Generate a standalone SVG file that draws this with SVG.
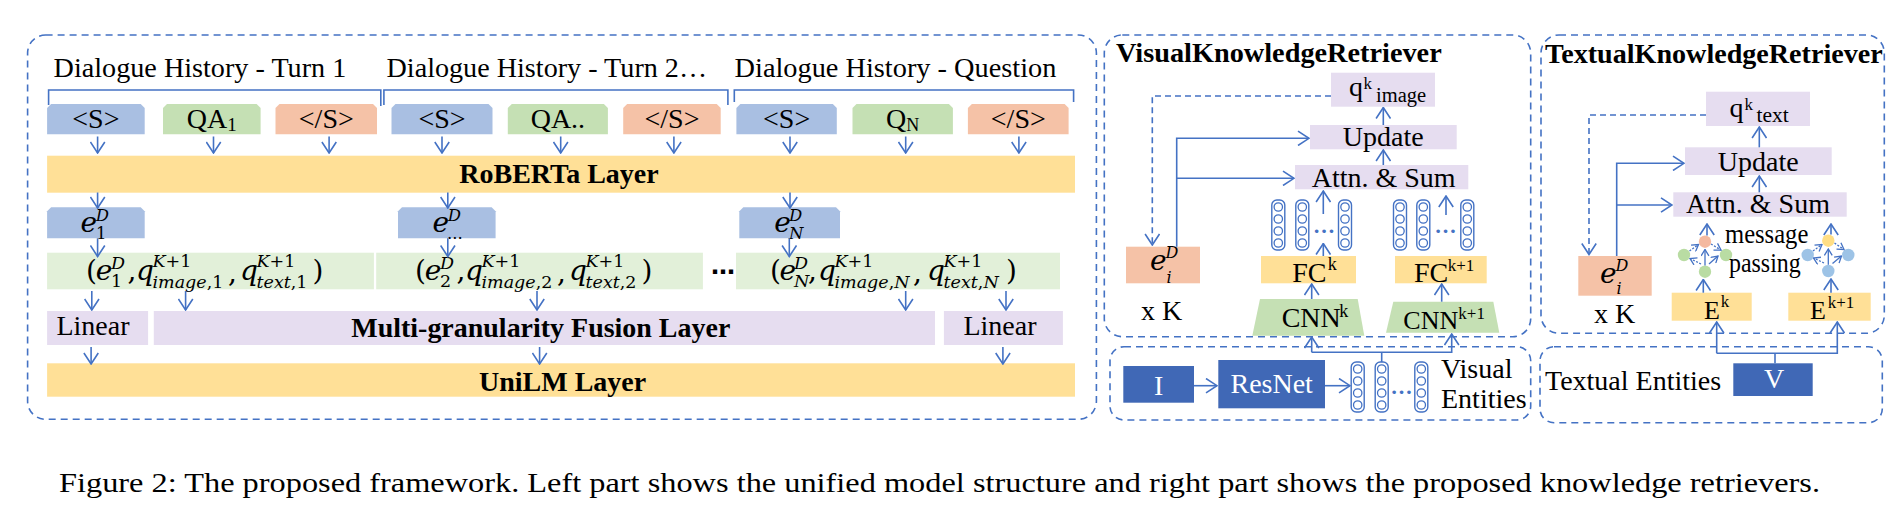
<svg xmlns="http://www.w3.org/2000/svg" width="1901" height="524" viewBox="0 0 1901 524">
<defs>
<style>
text{font-family:"Liberation Serif","Times New Roman",serif;fill:#000;font-size:28px}
.b{font-weight:bold}
.mid{text-anchor:middle}
.m{font-family:"DejaVu Serif","Liberation Serif",serif;font-style:italic}
.up{font-style:normal}
.wt{fill:#fff}
.pnl{fill:none;stroke:#4472C4;stroke-width:1.6;stroke-dasharray:7 5}
.ln{fill:none;stroke:#4472C4;stroke-width:1.6}
.ar{fill:none;stroke:#4472C4;stroke-width:1.6;marker-end:url(#ah)}
.dsh{fill:none;stroke:#4472C4;stroke-width:1.6;stroke-dasharray:6 4;marker-end:url(#ah)}
.sa{fill:none;stroke:#4472C4;stroke-width:1.3;marker-end:url(#ahs)}
.sd{fill:none;stroke:#4472C4;stroke-width:1.3;stroke-dasharray:2 1.5;marker-end:url(#ahs)}
.tb{fill:#A9BFE2}.tg{fill:#C5E0B4}.ts{fill:#F5C2A7}
.yel{fill:#FFE097}.lg{fill:#E2F0D9}.pu{fill:#E6DDF0}.db{fill:#4068B6}
.dots{fill:#4472C4;font-size:22px;font-weight:bold;text-anchor:middle}
</style>
<marker id="ah" markerUnits="userSpaceOnUse" viewBox="0 0 13 16" markerWidth="13" markerHeight="16" refX="12" refY="8" orient="auto">
<path d="M1,0.8L12,8L1,15.2" fill="none" stroke="#4472C4" stroke-width="1.6"/>
</marker>
<marker id="ahs" markerUnits="userSpaceOnUse" viewBox="0 0 8 9" markerWidth="8" markerHeight="9" refX="7" refY="4.5" orient="auto">
<path d="M0.6,0.6L7,4.5L0.6,8.4" fill="none" stroke="#4472C4" stroke-width="1.3"/>
</marker>
<g id="col">
<rect x="-6.5" y="0" width="13" height="50" rx="5" fill="#fff" stroke="#4472C4" stroke-width="1.4"/>
<circle cx="0" cy="7" r="4.2" fill="#fff" stroke="#4472C4" stroke-width="1.3"/>
<circle cx="0" cy="19" r="4.2" fill="#fff" stroke="#4472C4" stroke-width="1.3"/>
<circle cx="0" cy="31" r="4.2" fill="#fff" stroke="#4472C4" stroke-width="1.3"/>
<circle cx="0" cy="43" r="4.2" fill="#fff" stroke="#4472C4" stroke-width="1.3"/>
</g>
</defs>
<rect width="1901" height="524" fill="#fff"/>

<!-- panels -->
<g id="panels">
<rect class="pnl" x="27.6" y="35" width="1068.8" height="384.3" rx="18"/>
<rect class="pnl" x="1104.3" y="35" width="426.4" height="301.7" rx="18"/>
<rect class="pnl" x="1110" y="346.7" width="420.7" height="73.3" rx="14"/>
<rect class="pnl" x="1541" y="35" width="343.3" height="298.3" rx="18"/>
<rect class="pnl" x="1540" y="346.7" width="342.3" height="76" rx="14"/>
</g>

<!-- left: dialogue history -->
<g id="history-labels">
<text x="53.6" y="77.3" textLength="292.7" lengthAdjust="spacingAndGlyphs">Dialogue History - Turn 1</text>
<text x="386.5" y="77.3" textLength="320.6" lengthAdjust="spacingAndGlyphs">Dialogue History - Turn 2…</text>
<text x="734.6" y="77.3" textLength="321.8" lengthAdjust="spacingAndGlyphs">Dialogue History - Question</text>
<path class="ln" d="M48.6,105V90H380.8V106"/>
<path class="ln" d="M383.9,105V90H727.9V105"/>
<path class="ln" d="M734.3,102V90H1073.6V102"/>
</g>

<g id="tok-s1"><path class="tb" d="M47.1,134.3V108L51.1,104H140.7L144.7,108V134.3Z"/><text class="mid" x="95.9" y="128">&lt;S&gt;</text></g>
<g id="tok-qa1"><path class="tg" d="M163,134.3V108L167,104H256.6L260.6,108V134.3Z"/><text class="mid" x="211.8" y="128">QA<tspan font-size="19" dy="3">1</tspan></text></g>
<g id="tok-e1"><path class="ts" d="M275.5,134.3V108L279.5,104H373L377,108V134.3Z"/><text class="mid" x="326.3" y="128">&lt;/S&gt;</text></g>
<g id="tok-s2"><path class="tb" d="M391.5,134.3V108L395.5,104H488.5L492.5,108V134.3Z"/><text class="mid" x="442" y="128">&lt;S&gt;</text></g>
<g id="tok-qa2"><path class="tg" d="M507.8,134.3V108L511.8,104H603.9L607.9,108V134.3Z"/><text class="mid" x="557.9" y="128">QA..</text></g>
<g id="tok-e2"><path class="ts" d="M623.2,134.3V108L627.2,104H716.7L720.7,108V134.3Z"/><text class="mid" x="672" y="128">&lt;/S&gt;</text></g>
<g id="tok-s3"><path class="tb" d="M736.4,134.3V108L740.4,104H832.8L836.8,108V134.3Z"/><text class="mid" x="786.6" y="128">&lt;S&gt;</text></g>
<g id="tok-qn"><path class="tg" d="M852.5,134.3V108L856.5,104H948.9L952.9,108V134.3Z"/><text class="mid" x="902.7" y="128">Q<tspan font-size="18" dy="3">N</tspan></text></g>
<g id="tok-e3"><path class="ts" d="M967.9,134.3V108L971.9,104H1064.6L1068.6,108V134.3Z"/><text class="mid" x="1018.3" y="128">&lt;/S&gt;</text></g>

<g id="roberta"><rect class="yel" x="47.1" y="155.7" width="1027.9" height="37"/><text class="b mid" x="559" y="183">RoBERTa Layer</text></g>

<g id="e-1"><path class="tb" d="M47.1,238.3V211.3L51.1,207.3H140.7L144.7,211.3V238.3Z"/>
<text class="m" font-size="26"><tspan x="80.4" y="231.7">e</tspan><tspan x="95.7" y="220.5" font-size="16.5">D</tspan><tspan class="up" x="96" y="239" font-size="16.5">1</tspan></text></g>
<g id="e-2"><path class="tb" d="M398,238.3V211.3L402,207.3H491.6L495.6,211.3V238.3Z"/>
<text class="m" font-size="26"><tspan x="432.5" y="231.7">e</tspan><tspan x="447.8" y="220.5" font-size="16.5">D</tspan><tspan class="up" x="447" y="239" font-size="16.5">...</tspan></text></g>
<g id="e-n"><path class="tb" d="M739.3,238.3V211.3L743.3,207.3H836L840,211.3V238.3Z"/>
<text class="m" font-size="26"><tspan x="774.3" y="231.7">e</tspan><tspan x="789" y="220.5" font-size="16.5">D</tspan><tspan x="789" y="239" font-size="16.5">N</tspan></text></g>

<g id="tuple-1"><rect class="lg" x="47.1" y="252.7" width="326.8" height="36.6"/>
<text class="m" font-size="24"><tspan class="up" x="86" y="280">(</tspan><tspan x="95.7" y="280">e</tspan><tspan x="111" y="268.5" font-size="17.5">D</tspan><tspan class="up" x="111" y="287" font-size="17.5">1</tspan><tspan class="up" x="127.4" y="280">,</tspan><tspan x="135.9" y="280">q</tspan><tspan x="152.5" y="267" font-size="17.5">K<tspan class="up">+1</tspan></tspan><tspan x="152.5" y="288" font-size="17.5">image<tspan class="up">,1</tspan></tspan><tspan class="up" x="228" y="282">,</tspan><tspan x="240" y="280">q</tspan><tspan x="256.5" y="267" font-size="17.5">K<tspan class="up">+1</tspan></tspan><tspan x="256.5" y="288" font-size="17.5">text<tspan class="up">,1</tspan></tspan><tspan class="up" x="312.5" y="280">)</tspan></text></g>
<g id="tuple-2"><rect class="lg" x="376.2" y="252.7" width="326.7" height="36.6"/>
<text class="m" font-size="24"><tspan class="up" x="415" y="280">(</tspan><tspan x="424.7" y="280">e</tspan><tspan x="440" y="268.5" font-size="17.5">D</tspan><tspan class="up" x="440" y="287" font-size="17.5">2</tspan><tspan class="up" x="456.4" y="280">,</tspan><tspan x="464.9" y="280">q</tspan><tspan x="481.5" y="267" font-size="17.5">K<tspan class="up">+1</tspan></tspan><tspan x="481.5" y="288" font-size="17.5">image<tspan class="up">,2</tspan></tspan><tspan class="up" x="557" y="282">,</tspan><tspan x="569" y="280">q</tspan><tspan x="585.5" y="267" font-size="17.5">K<tspan class="up">+1</tspan></tspan><tspan x="585.5" y="288" font-size="17.5">text<tspan class="up">,2</tspan></tspan><tspan class="up" x="641.5" y="280">)</tspan></text></g>
<g id="ellipsis"><text class="mid" x="723" y="280" style="font-family:'DejaVu Sans',sans-serif;font-weight:bold;font-size:24px">⋯</text></g>
<g id="tuple-n"><rect class="lg" x="736" y="252.7" width="324" height="36.6"/>
<text class="m" font-size="24"><tspan class="up" x="770" y="280">(</tspan><tspan x="779.5" y="280">e</tspan><tspan x="794" y="268.5" font-size="17.5">D</tspan><tspan x="794" y="287" font-size="17.5">N</tspan><tspan class="up" x="808" y="280">,</tspan><tspan x="818" y="280">q</tspan><tspan x="834.5" y="267" font-size="17.5">K<tspan class="up">+1</tspan></tspan><tspan x="834.5" y="288" font-size="17.5">image<tspan class="up">,</tspan>N</tspan><tspan class="up" x="913" y="282">,</tspan><tspan x="927" y="280">q</tspan><tspan x="943.5" y="267" font-size="17.5">K<tspan class="up">+1</tspan></tspan><tspan x="943.5" y="288" font-size="17.5">text<tspan class="up">,</tspan>N</tspan><tspan class="up" x="1006" y="280">)</tspan></text></g>

<g id="linear-1"><rect class="pu" x="47.1" y="311" width="101" height="34"/><text class="mid" x="93" y="335">Linear</text></g>
<g id="fusion"><rect class="pu" x="153.8" y="311" width="781.2" height="34"/><text class="b mid" x="540.8" y="337" textLength="379" lengthAdjust="spacingAndGlyphs">Multi-granularity Fusion Layer</text></g>
<g id="linear-2"><rect class="pu" x="943.9" y="311" width="119" height="34"/><text class="mid" x="1000" y="335">Linear</text></g>
<g id="unilm"><rect class="yel" x="47.1" y="363.3" width="1027.9" height="33.4"/><text class="b mid" x="562.6" y="391">UniLM Layer</text></g>

<!-- visual knowledge retriever -->
<g id="visual-title"><text class="b" x="1116" y="61.7" textLength="325.7" lengthAdjust="spacingAndGlyphs">VisualKnowledgeRetriever</text></g>
<g id="q-image"><rect class="pu" x="1331" y="72.7" width="104" height="34"/>
<text font-size="27"><tspan x="1349" y="96">q</tspan><tspan x="1363.5" y="88.5" font-size="17">k</tspan><tspan x="1376" y="101.7" font-size="20.5">image</tspan></text></g>
<g id="v-update"><rect class="pu" x="1310" y="125" width="146.7" height="24.3"/><text class="mid" x="1383.3" y="145.5">Update</text></g>
<g id="v-attn"><rect class="pu" x="1295" y="165" width="173.3" height="24.3"/><text class="mid" x="1383.7" y="186.5">Attn. &amp; Sum</text></g>
<g id="v-feat-k"><use href="#col" x="1278.3" y="200"/><use href="#col" x="1302.3" y="200"/><use href="#col" x="1345" y="200"/><text class="dots" x="1324" y="233">…</text></g>
<g id="v-feat-k1"><use href="#col" x="1400" y="200"/><use href="#col" x="1423.3" y="200"/><use href="#col" x="1467.3" y="200"/><text class="dots" x="1445.5" y="233">…</text></g>
<g id="v-ei"><rect class="ts" x="1126" y="246.7" width="74" height="36.6"/>
<text class="m" font-size="24"><tspan x="1150" y="270">e</tspan><tspan x="1165.5" y="258" font-size="16">D</tspan><tspan x="1166.5" y="282.5" font-size="16">i</tspan></text></g>
<g id="v-xk"><text x="1141" y="320">x K</text></g>
<g id="fc-k"><rect class="yel" x="1261" y="256" width="95" height="27.3"/><text><tspan x="1292.3" y="281.7">FC</tspan><tspan x="1327.7" y="270" font-size="18">k</tspan></text></g>
<g id="fc-k1"><rect class="yel" x="1395" y="256" width="91.7" height="27.3"/><text><tspan x="1414" y="281.7">FC</tspan><tspan x="1447.7" y="270.5" font-size="17">k+1</tspan></text></g>
<g id="cnn-k"><path class="tg" d="M1260,299H1357.7L1364.3,335.7H1252.3Z"/><text><tspan x="1281.7" y="327.3">CNN</tspan><tspan x="1339.3" y="316.7" font-size="18">k</tspan></text></g>
<g id="cnn-k1"><path class="tg" d="M1393.3,301.7H1493.3L1499.3,332.7H1386Z"/><text><tspan x="1403.3" y="329.3" font-size="26">CNN</tspan><tspan x="1458.3" y="319.3" font-size="17">k+1</tspan></text></g>
<g id="img-i"><rect class="db" x="1123.3" y="366" width="70.7" height="36.7"/><text class="wt mid" x="1158.7" y="395" font-size="30">I</text></g>
<g id="resnet"><rect class="db" x="1218.3" y="360" width="106.7" height="48.3"/><text class="wt mid" x="1271.7" y="392.7">ResNet</text></g>
<g id="visual-entities"><use href="#col" x="1357.7" y="362"/><use href="#col" x="1381.7" y="362"/><use href="#col" x="1421.3" y="362"/><text class="dots" x="1401.5" y="394">…</text>
<text x="1441" y="378.3">Visual</text><text x="1441" y="408.3">Entities</text></g>

<!-- textual knowledge retriever -->
<g id="textual-title"><text class="b" x="1545" y="63.3" textLength="337.7" lengthAdjust="spacingAndGlyphs">TextualKnowledgeRetriever</text></g>
<g id="q-text"><rect class="pu" x="1706" y="91.7" width="104" height="34.3"/>
<text font-size="27"><tspan x="1729.5" y="116.7">q</tspan><tspan x="1744.5" y="109.5" font-size="17">k</tspan><tspan x="1756.5" y="121.7" font-size="21.5">text</tspan></text></g>
<g id="t-update"><rect class="pu" x="1685" y="147.3" width="146.7" height="27.7"/><text class="mid" x="1758.3" y="170.7">Update</text></g>
<g id="t-attn"><rect class="pu" x="1673.3" y="192.3" width="173.4" height="24.4"/><text class="mid" x="1758" y="213.3">Attn. &amp; Sum</text></g>
<g id="t-ei"><rect class="ts" x="1578.3" y="256" width="73.4" height="39.7"/>
<text class="m" font-size="24"><tspan x="1600" y="283">e</tspan><tspan x="1615.5" y="271" font-size="16">D</tspan><tspan x="1616.5" y="294" font-size="16">i</tspan></text></g>
<g id="t-xk"><text x="1594" y="322.7">x K</text></g>
<g id="graph-k">
<circle cx="1705" cy="241.7" r="6.2" fill="#F4B9A0"/><circle cx="1684" cy="255" r="6.2" fill="#B9DCA3"/><circle cx="1726" cy="255" r="6.2" fill="#B9DCA3"/><circle cx="1705" cy="271.7" r="6.2" fill="#B9DCA3"/>
</g>
<g id="graph-k1">
<circle cx="1828.3" cy="240.7" r="6.2" fill="#FFDE85"/><circle cx="1807.7" cy="255" r="6.2" fill="#9DC3E6"/><circle cx="1848.3" cy="255" r="6.2" fill="#9DC3E6"/><circle cx="1828.3" cy="271" r="6.2" fill="#9DC3E6"/>
</g>
<g id="msg-label"><text x="1725" y="243" font-size="23.5" textLength="83.3" lengthAdjust="spacingAndGlyphs">message</text><text x="1729" y="271.5" font-size="23.5" textLength="71.7" lengthAdjust="spacingAndGlyphs">passing</text></g>
<g id="e-k"><rect class="yel" x="1671.7" y="292.7" width="80" height="28"/><text><tspan x="1704" y="319" font-size="26">E</tspan><tspan x="1720.7" y="307.3" font-size="17">k</tspan></text></g>
<g id="e-k1"><rect class="yel" x="1788.3" y="292.7" width="82.4" height="28"/><text><tspan x="1810" y="319" font-size="26">E</tspan><tspan x="1827.7" y="308" font-size="17">k+1</tspan></text></g>
<g id="textual-entities"><text x="1545" y="390">Textual Entities</text></g>
<g id="vocab-v"><rect class="db" x="1733.3" y="363.3" width="79.4" height="32.7"/><text class="wt mid" x="1774" y="388.3" font-size="30">V</text></g>

<!-- caption -->
<g id="caption"><text x="59" y="491.7" font-size="30" textLength="1761" lengthAdjust="spacingAndGlyphs">Figure 2: The proposed framework. Left part shows the unified model structure and right part shows the proposed knowledge retrievers.</text></g>

<!-- connectors -->
<g id="connectors">
<path class="ar" d="M97.6,136.5V153"/>
<path class="ar" d="M213.5,136.5V153"/>
<path class="ar" d="M329.1,136.5V153"/>
<path class="ar" d="M442,136.5V153"/>
<path class="ar" d="M560.7,136.5V153"/>
<path class="ar" d="M673.9,136.5V153"/>
<path class="ar" d="M790,136.5V153"/>
<path class="ar" d="M905.7,136.5V153"/>
<path class="ar" d="M1018.9,136.5V153"/>
<path class="ar" d="M97.6,192.5V208"/>
<path class="ar" d="M447.8,192.5V208"/>
<path class="ar" d="M790,192.5V208"/>
<path class="ar" d="M97.6,238.3V256.5"/>
<path class="ar" d="M447.8,238.3V256.5"/>
<path class="ar" d="M789.3,238.3V256.5"/>
<path class="ar" d="M91.8,291V310"/>
<path class="ar" d="M185.6,291V310"/>
<path class="ar" d="M537,291V310"/>
<path class="ar" d="M905.7,291V310"/>
<path class="ar" d="M1006,291V310"/>
<path class="ar" d="M91.1,347V364"/>
<path class="ar" d="M539.6,347V364"/>
<path class="ar" d="M1002.9,347V364"/>
<!-- visual -->
<path class="dsh" d="M1331,96H1152.3V245"/>
<path class="ar" d="M1176.7,246.7V138.3H1309"/>
<path class="ar" d="M1176.7,178.3H1294"/>
<path class="ar" d="M1383.3,125V107.5"/>
<path class="ar" d="M1383.3,165V150"/>
<path class="ar" d="M1323.3,214V191"/>
<path class="ar" d="M1446,215V196"/>
<path class="ar" d="M1323.3,256V243.5"/>
<path class="ar" d="M1311.7,299V284"/>
<path class="ar" d="M1441.7,301.7V284"/>
<path class="ar" d="M1194,385.7H1217"/>
<path class="ar" d="M1325,385.7H1350"/>
<path class="ln" d="M1381.7,362V352.3"/>
<path class="ar" d="M1311.7,352.3H1451.7V334"/>
<path class="ar" d="M1311.7,352.3V337"/>
<!-- textual -->
<path class="dsh" d="M1706,115H1589V254.5"/>
<path class="ar" d="M1616.7,256V163.3H1684"/>
<path class="ar" d="M1616.7,205H1672"/>
<path class="ar" d="M1759.3,147.3V127"/>
<path class="ar" d="M1759.3,192.3V176"/>
<path class="ar" d="M1703.3,292.7V279.5"/>
<path class="ar" d="M1831,292.7V279"/>
<path class="ln" d="M1775,363.3V353.3"/>
<path class="ar" d="M1716.7,353.3H1837.3V322"/>
<path class="ar" d="M1716.7,353.3V322"/>
<!-- message passing graph k -->
<path class="ar" d="M1707,235.5V224"/>
<path class="sd" d="M1689.5,251L1698.5,244.5"/>
<path class="sd" d="M1711,244L1721,250"/>
<path class="sa" d="M1705,265.5V249.5"/>
<path class="sd" d="M1701,264L1690,258.5"/>
<path class="sa" d="M1709,264L1718,256"/>
<!-- message passing graph k+1 -->
<path class="ar" d="M1831,234.5V224"/>
<path class="sd" d="M1813,251L1822,244.5"/>
<path class="sd" d="M1834.5,243L1844,249.5"/>
<path class="sa" d="M1828.3,264.8V249"/>
<path class="sd" d="M1824,263L1813.5,258"/>
<path class="sa" d="M1832.5,263.5L1841.5,256"/>
</g>
</svg>
